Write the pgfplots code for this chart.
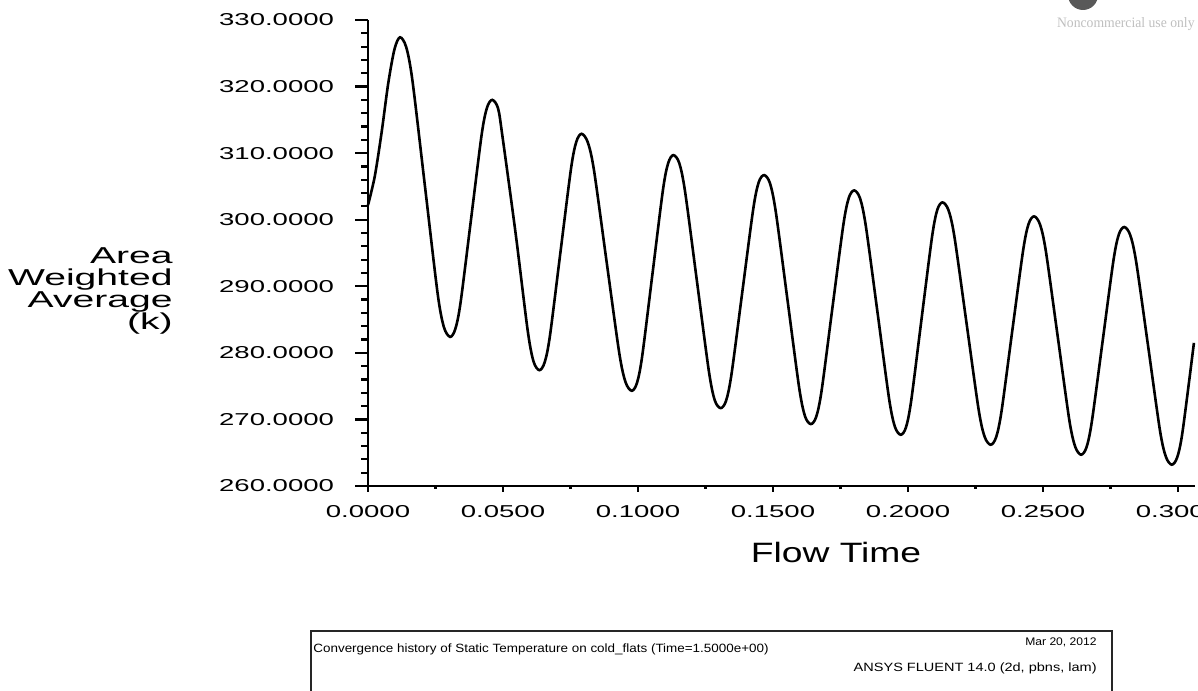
\documentclass[border=0pt]{standalone}
\usepackage{fontspec}
\setmainfont{Liberation Sans}
\newfontfamily\tickfont{Liberation Sans}[FakeStretch=1.6]
\newfontfamily\ylabfont{Liberation Sans}[FakeStretch=1.7]
\newfontfamily\labfont{Liberation Sans}[FakeStretch=1.33]
\newfontfamily\footfont{Liberation Sans}[FakeStretch=1.1]
\newfontfamily\footfontA{Liberation Sans}[FakeStretch=1.12]
\newfontfamily\footfontB{Liberation Sans}[FakeStretch=1.21]
\newfontfamily\wmfont{Liberation Serif}[FakeStretch=0.95]
\usepackage{pgfplots}
\pgfplotsset{compat=1.18}
\pgfplotsset{
  common/.style={
    at={(184pt,102pt)}, anchor=south west,
    scale only axis, width=413.5pt, height=233pt,
    xmin=0, xmax=0.3063, ymin=260, ymax=330,
    axis line style={line width=1.3pt, black},
    tick align=outside,
    tick style={line width=1.1pt, black},
    /pgf/number format/assume math mode=true,
    /pgf/number format/.cd, fixed, fixed zerofill, precision=4, /pgfplots/.cd,
    ticklabel style={font=\tickfont\fontsize{8.6}{10}\selectfont},
  }
}
\begin{document}
\begin{tikzpicture}
\begin{axis}[
  common,
  axis x line*=bottom, axis y line*=left,
  ytick={260,270,...,330},
  xtick=\empty,
  minor y tick num=4,
  major tick length=6.5pt, minor tick length=3.5pt,
  yticklabel style={xshift=-7pt},
  clip=false,
]
\addplot[black, line width=1.3pt, smooth, tension=0.5] coordinates {
(0, 302.2) (0.0025, 306.5) (0.005, 313) (0.0075, 320.5) (0.0098, 325.6)
(0.01185, 327.4) (0.01417, 325.9) (0.01649, 320.8) (0.02113, 304.9) (0.02576, 289.0) (0.02808, 283.9)
(0.0304, 282.4) (0.03235, 283.6) (0.0343, 287.6) (0.0382, 300.2) (0.0421, 312.8) (0.04405, 316.8)
(0.0460, 318.0) (0.04819, 316.7) (0.04994, 312.1) (0.05475, 297.7) (0.05913, 283.4) (0.06131, 278.7)
(0.0635, 277.4) (0.06545, 278.6) (0.0674, 282.6) (0.0713, 295.2) (0.0752, 307.7) (0.07715, 311.7)
(0.0791, 312.9) (0.08143, 311.6) (0.08375, 307.3) (0.0884, 293.6) (0.09305, 280.0) (0.09538, 275.6)
(0.0977, 274.3) (0.09963, 275.5) (0.10155, 279.5) (0.1054, 292.0) (0.10925, 304.5) (0.11118, 308.5)
(0.1131, 309.7) (0.11529, 308.5) (0.11748, 304.1) (0.12185, 290.7) (0.12623, 277.3) (0.12841, 272.9)
(0.1306, 271.7) (0.13261, 272.8) (0.13463, 276.8) (0.13865, 289.2) (0.14268, 301.6) (0.14469, 305.6)
(0.1467, 306.7) (0.14886, 305.5) (0.15103, 301.2) (0.15535, 288.0) (0.15968, 274.8) (0.16184, 270.5)
(0.1640, 269.3) (0.16601, 270.4) (0.16803, 274.4) (0.17205, 286.9) (0.17608, 299.3) (0.17809, 303.3)
(0.1801, 304.4) (0.18225, 303.2) (0.1844, 299.0) (0.1887, 286.1) (0.1930, 273.1) (0.19515, 268.9)
(0.1973, 267.7) (0.19924, 268.8) (0.20118, 272.8) (0.20505, 285.2) (0.20893, 297.5) (0.21086, 301.5)
(0.2128, 302.6) (0.21503, 301.4) (0.21725, 297.3) (0.2217, 284.4) (0.22615, 271.5) (0.22838, 267.4)
(0.2306, 266.2) (0.23261, 267.3) (0.23463, 271.2) (0.23865, 283.4) (0.24268, 295.5) (0.24469, 299.4)
(0.2467, 300.5) (0.24888, 299.3) (0.25105, 295.3) (0.2554, 282.6) (0.25975, 269.9) (0.26193, 265.9)
(0.2641, 264.7) (0.2661, 265.8) (0.2681, 269.7) (0.2721, 281.8) (0.2761, 293.9) (0.2781, 297.8)
(0.2801, 298.9) (0.2823, 297.7) (0.2845, 293.7) (0.2889, 281.1) (0.2933, 268.4) (0.2955, 264.4)
(0.2977, 263.2) (0.2997, 264.3) (0.3017, 268.2) (0.3059, 281.5)
};
\end{axis}
\begin{axis}[
  common,
  axis x line*=bottom, hide y axis,
  xtick={0,0.05,...,0.3},
  minor x tick num=1,
  major tick length=3pt, minor tick length=1.5pt,
  xticklabel style={yshift=-3pt},
]
\end{axis}
% y label
\node[anchor=east, align=right, inner sep=0pt,
      font=\ylabfont\fontsize{11.5}{10.85}\selectfont] at (86.5pt,199.5pt)
  {Area\\Weighted\\Average\\(k)};
% x label
\node[anchor=base, inner sep=0pt, font=\labfont\fontsize{14}{16}\selectfont] at (418pt,63.5pt) {Flow Time};
% watermark
\fill[black!65] (541.5pt,347.5pt) circle (7.5pt);
\node[anchor=base east, inner sep=0pt, text=black!25, font=\wmfont\fontsize{7.2}{8}\selectfont] at (597.5pt,331pt) {Noncommercial use only};
% footer box
\draw[line width=1pt, black!85] (155.5pt,-10pt) -- (155.5pt,29.5pt) -- (556pt,29.5pt) -- (556pt,-10pt);
\node[anchor=west, inner sep=0pt, font=\footfontA\fontsize{6}{7}\selectfont] at (156.5pt,20.5pt)
  {Convergence history of Static Temperature on cold\_flats (Time=1.5000e+00)};
\node[anchor=east, inner sep=0pt, font=\footfont\fontsize{5.5}{6}\selectfont] at (548.5pt,24pt) {Mar 20, 2012};
\node[anchor=east, inner sep=0pt, font=\footfontB\fontsize{6}{7}\selectfont] at (548.5pt,11pt) {ANSYS FLUENT 14.0 (2d, pbns, lam)};
\pgfresetboundingbox
\useasboundingbox (0,0) rectangle (599pt,345pt);
\end{tikzpicture}
\end{document}
